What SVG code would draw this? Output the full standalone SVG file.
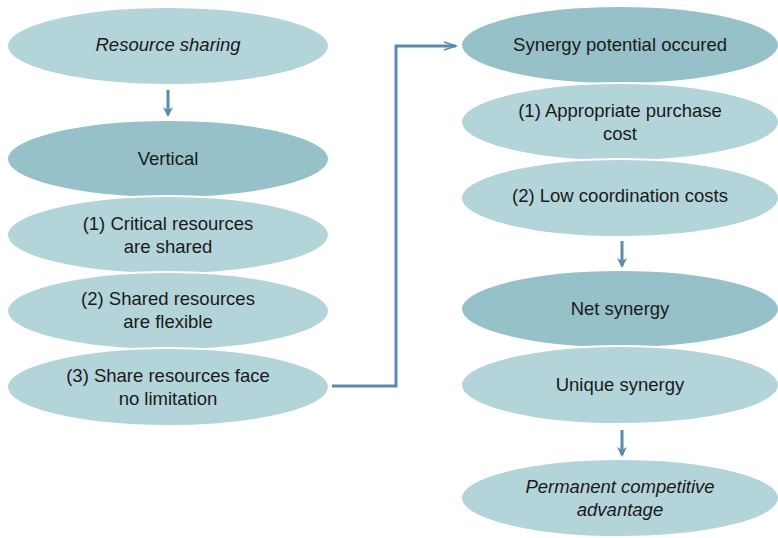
<svg xmlns="http://www.w3.org/2000/svg" width="778" height="538" viewBox="0 0 778 538">
<defs>
<style>
.l{fill:#b3d4d9;stroke:#ffffff;stroke-width:2}
.d{fill:#96c1c8;stroke:#ffffff;stroke-width:2}
text{font-family:"Liberation Sans",Arial,sans-serif;font-size:18.5px;fill:#1a1a1a;text-anchor:middle}
.i{font-style:italic}
.c{stroke:#5a8bae;stroke-width:3;fill:none}
</style>
<marker id="ah" markerWidth="12" markerHeight="12" refX="8" refY="6" orient="auto" markerUnits="userSpaceOnUse">
<path d="M0,1 L10,6 L0,11 L3,6 Z" fill="#5a8bae"/>
</marker>
<marker id="oa" markerWidth="16" markerHeight="12" refX="13" refY="6" orient="auto" markerUnits="userSpaceOnUse">
<path d="M1,2 L13,6 L1,10" fill="none" stroke="#5a8bae" stroke-width="1.5"/>
</marker>
</defs>
<g id="connectors">
<line class="c" x1="168" y1="90" x2="168" y2="115" marker-end="url(#ah)"/>
<polyline class="c" points="332,386 396,386 396,46 456,46" marker-end="url(#oa)"/>
<line class="c" x1="622" y1="241" x2="622" y2="266" marker-end="url(#ah)"/>
<line class="c" x1="622" y1="430" x2="622" y2="455" marker-end="url(#ah)"/>
</g>
<g id="resource-sharing"><ellipse class="l" cx="168" cy="46" rx="161" ry="39"/><text class="i" x="168" y="51">Resource sharing</text></g>
<g id="vertical"><ellipse class="d" cx="168" cy="159" rx="161" ry="39"/><text x="168" y="165">Vertical</text></g>
<g id="critical"><ellipse class="l" cx="168" cy="235" rx="161" ry="39"/><text x="168" y="230">(1) Critical resources</text><text x="168" y="253">are shared</text></g>
<g id="flexible"><ellipse class="l" cx="168" cy="311" rx="161" ry="39"/><text x="168" y="305">(2) Shared resources</text><text x="168" y="328">are flexible</text></g>
<g id="limitation"><ellipse class="l" cx="168" cy="387" rx="161" ry="39"/><text x="168" y="382">(3) Share resources face</text><text x="168" y="405">no limitation</text></g>
<g id="synergy-potential"><ellipse class="d" cx="620" cy="45" rx="159" ry="39"/><text x="620" y="51">Synergy potential occured</text></g>
<g id="purchase-cost"><ellipse class="l" cx="620" cy="122" rx="159" ry="39"/><text x="620" y="117">(1) Appropriate purchase</text><text x="620" y="140">cost</text></g>
<g id="coordination"><ellipse class="l" cx="620" cy="198" rx="159" ry="39"/><text x="620" y="202">(2) Low coordination costs</text></g>
<g id="net-synergy"><ellipse class="d" cx="620" cy="309" rx="159" ry="39"/><text x="620" y="315">Net synergy</text></g>
<g id="unique-synergy"><ellipse class="l" cx="620" cy="385" rx="159" ry="39"/><text x="620" y="391">Unique synergy</text></g>
<g id="permanent"><ellipse class="l" cx="620" cy="498" rx="159" ry="39"/><text class="i" x="620" y="493">Permanent competitive</text><text class="i" x="620" y="516">advantage</text></g>
</svg>
